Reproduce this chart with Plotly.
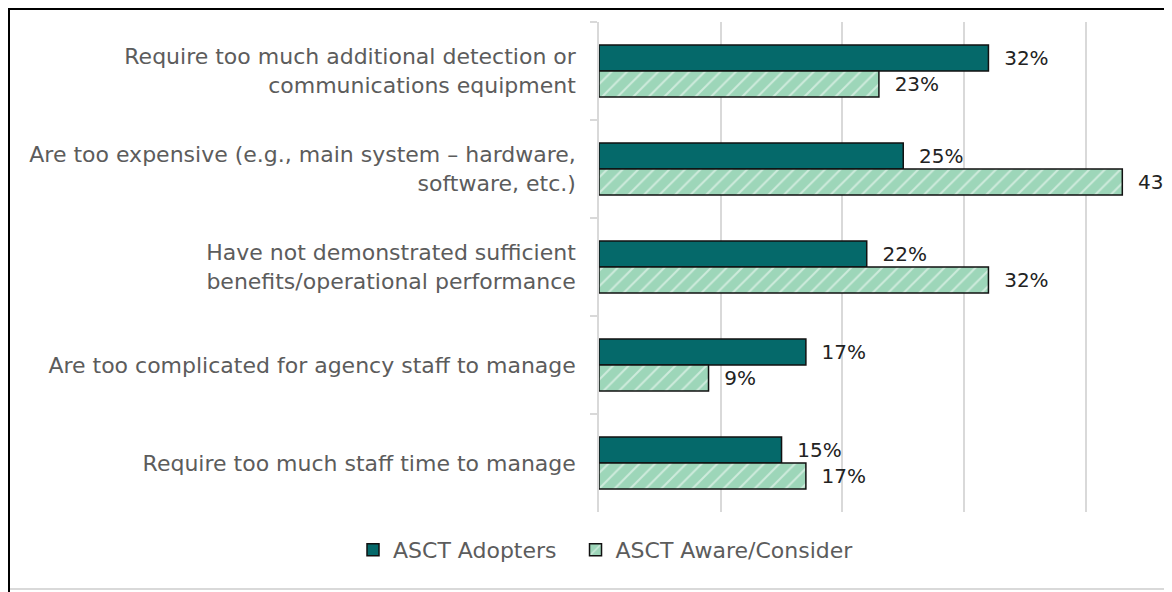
import plotly.graph_objects as go

categories = [
    "Require too much additional detection or<br>communications equipment",
    "Are too expensive (e.g., main system – hardware,<br>software, etc.)",
    "Have not demonstrated sufficient<br>benefits/operational performance",
    "Are too complicated for agency staff to manage",
    "Require too much staff time to manage",
]
adopters = [32, 25, 22, 17, 15]
aware = [23, 43, 32, 9, 17]

# page has an 8px body margin, so the figure is drawn 8px in from the corner
OFF = 8
W, H = 1172 - OFF, 592 - OFF
L, R, T, B = 599 - OFF, 0, 22 - OFF, 80
pw, ph = W - L - R, H - T - B

FONT = "DejaVu Sans"
TEAL = "#05696a"
MINT = "#9dd6b9"


def px_x(x):
    return (x - OFF - L) / pw


def px_y(y):
    return (H - B - (y - OFF)) / ph


fig = go.Figure()
fig.add_trace(go.Bar(
    y=categories, x=adopters, orientation="h",
    name="ASCT Adopters\u00a0\u00a0",  # padding to space the legend items
    marker=dict(color=TEAL, line=dict(color="#111", width=1.5)),
    text=[f"  {v}%" for v in adopters], textposition="outside",
    textfont=dict(color="#222", size=20, family=FONT), cliponaxis=False))
fig.add_trace(go.Bar(
    y=categories, x=aware, orientation="h", name="ASCT Aware/Consider",
    marker=dict(color=MINT, line=dict(color="#111", width=1.5),
                pattern=dict(shape="/", fgcolor="white", bgcolor=MINT,
                             size=11, solidity=0.18)),
    text=[f"  {v}%" for v in aware], textposition="outside",
    textfont=dict(color="#222", size=20, family=FONT), cliponaxis=False))

# chart frame (black top/left, grey bottom)
frame = [
    dict(x0=px_x(OFF), x1=px_x(1180), y0=px_y(OFF + 1), y1=px_y(OFF + 1), color="#000", w=2),
    dict(x0=px_x(OFF + 1), x1=px_x(OFF + 1), y0=px_y(OFF), y1=px_y(600), color="#000", w=2),
    dict(x0=px_x(OFF + 2), x1=px_x(1180), y0=px_y(589), y1=px_y(589), color="#d9d9d9", w=2),
]
for f in frame:
    fig.add_shape(type="line", xref="paper", yref="paper",
                  x0=f["x0"], x1=f["x1"], y0=f["y0"], y1=f["y1"],
                  line=dict(color=f["color"], width=f["w"]))

fig.update_layout(
    width=W, height=H, barmode="group", bargap=0.47, bargroupgap=0,
    margin=dict(l=L, r=R, t=T, b=B),
    paper_bgcolor="white", plot_bgcolor="white",
    font=dict(family=FONT, color="#5c5c5c", size=22),
    xaxis=dict(range=[0, pw / 12.17], dtick=10, showticklabels=False,
               showgrid=True, gridcolor="#d9d9d9", gridwidth=1.5,
               zeroline=False, showline=False, fixedrange=True),
    yaxis=dict(autorange="reversed", showline=True, linecolor="#d9d9d9",
               linewidth=1.5, ticks="outside", tickson="boundaries",
               ticklen=7, tickcolor="#d9d9d9", tickwidth=1.5,
               tickfont=dict(size=22, color="#5c5c5c"), ticklabelstandoff=17),
    legend=dict(orientation="h", x=px_x(353), xanchor="left",
                y=px_y(550), yanchor="middle",
                font=dict(size=22, color="#5c5c5c"), traceorder="normal"),
    showlegend=True,
)

fig.write_html("out.html")
